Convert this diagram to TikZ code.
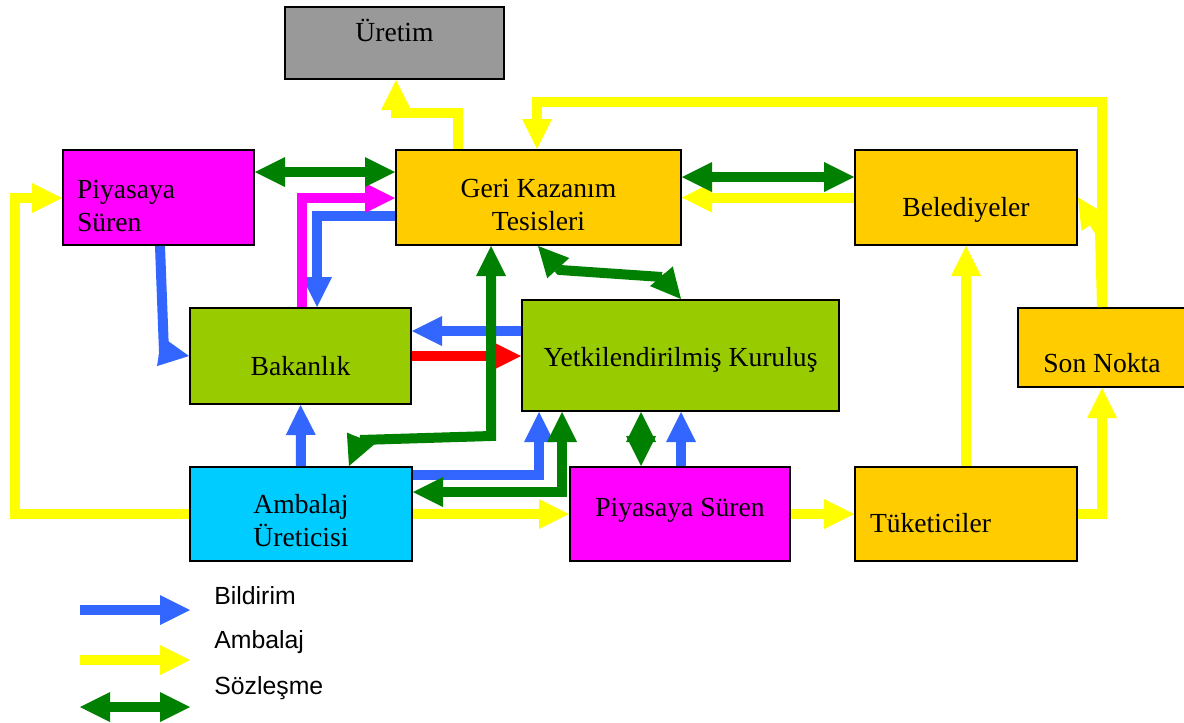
\documentclass[tikz,border=0pt]{standalone}
\usepackage{fontspec}
\setmainfont{Liberation Serif}
\newfontfamily\legendfont{Liberation Sans}
\usetikzlibrary{arrows.meta}

\definecolor{bildirim}{HTML}{3366FF}
\definecolor{ambalaj}{HTML}{FFFF00}
\definecolor{sozlesme}{HTML}{008000}
\definecolor{kirmizi}{HTML}{FF0000}
\definecolor{pembe}{HTML}{FF00FF}
\definecolor{turuncu}{HTML}{FFCC00}
\definecolor{yesil}{HTML}{99CC00}
\definecolor{mavi}{HTML}{00CCFF}
\definecolor{gri}{HTML}{999999}

\begin{document}
\begin{tikzpicture}[x=0.5pt, y=-0.5pt,
            kutu/.style={draw=black, line width=1pt, inner sep=0pt, font=\fontsize{13.8pt}{16.5pt}\selectfont},
            taban/.style={text height=#1, text depth=0pt},
            ok/.style={line width=5pt, -{Triangle[length=15pt, width=15pt, line width=0pt]}},
            ciftok/.style={line width=5pt, {Triangle[length=15pt, width=15pt, line width=0pt]}-{Triangle[length=15pt, width=15pt, line width=0pt]}},
            bil/.style={ok, draw=bildirim},
            amb/.style={ok, draw=ambalaj},
            soz/.style={ciftok, draw=sozlesme},
            lejant/.style={anchor=west, inner sep=0pt, font=\legendfont\fontsize{12.4pt}{14pt}\selectfont}]
            \useasboundingbox (0,0) rectangle (1184,723);

            \node[kutu, fill=gri, minimum width=109.5pt, minimum height=36pt, text height=0pt, text depth=1.3pt] (uretim) at (394.5,43) {Üretim};
            \node[kutu, fill=pembe, minimum width=95.5pt, minimum height=47.5pt, text width=81.5pt, align=left, taban=0.8pt] (piyasaA) at (158.5,197.5) {Piyasaya\\Süren};
            \node[kutu, fill=turuncu, minimum width=142.5pt, minimum height=47.5pt, align=center, taban=32.5pt] (geri) at (538.5,197.5) {Geri Kazanım\\Tesisleri};
            \node[kutu, fill=turuncu, minimum width=111pt, minimum height=47.5pt, taban=18.5pt] (belediye) at (966,197.5) {Belediyeler};
            \node[kutu, fill=yesil, minimum width=110.5pt, minimum height=48pt, taban=19pt] (bakanlik) at (300.5,356) {Bakanlık};
            \node[kutu, fill=yesil, minimum width=158.5pt, minimum height=55.5pt, taban=11.2pt] (yetkili) at (680.5,355.5) {Yetkilendirilmiş Kuruluş};
            \node[kutu, fill=turuncu, minimum width=84pt, minimum height=39.5pt, taban=25.2pt] (sonnokta) at (1102,347.5) {Son Nokta};
            \node[kutu, fill=mavi, minimum width=111pt, minimum height=47pt, align=center, taban=32.7pt] (uretici) at (301,514) {Ambalaj\\Üreticisi};
            \node[kutu, fill=pembe, minimum width=110pt, minimum height=47pt, taban=2.7pt] (piyasaB) at (680,514) {Piyasaya Süren};
            \node[kutu, fill=turuncu, minimum width=111pt, minimum height=47pt, text width=96pt, align=left, taban=18.7pt] (tuketici) at (966,514) {Tüketiciler};

            \draw[amb] (geri.north -| 458,0) |- (396,113) -- (uretim.south -| 396,0);
            \draw[amb] (sonnokta.north) |- (537,102) -- (geri.north -| 537,0);
            \draw[amb] (sonnokta.north) -- (1100,232) -- (belediye.east);
            \draw[amb] (belediye.west) -- (geri.east |- belediye.west);
            \draw[amb] (tuketici.north) -- (belediye.south);
            \draw[amb] (tuketici.east) -| (sonnokta.south);
            \draw[amb] (piyasaB.east) -- (tuketici.west);
            \draw[amb] (uretici.east) -- (piyasaB.west);
            \draw[amb] (uretici.west) -| (15,198) -- (piyasaA.west |- 0,198);

            \draw[bil] (piyasaA.south -| 160,0) -- (164,352) -- (bakanlik.west);
            \draw[bil] (geri.west |- 0,216) -| (bakanlik.north -| 317,0);
            \draw[bil] (yetkili.west |- 0,331) -- (bakanlik.east |- 0,331);
            \draw[bil] (uretici.north) -- (bakanlik.south);
            \draw[bil] (uretici.east |- 0,475) -| (yetkili.south -| 539,0);
            \draw[bil] (piyasaB.north -| 681,0) -- (yetkili.south -| 681,0);

            \draw[ok, draw=pembe] (bakanlik.north -| 302,0) |- (geri.west |- 0,198);
            \draw[ok, draw=kirmizi] (bakanlik.east) -- (yetkili.west |- bakanlik.east);

            \draw[soz] (piyasaA.east |- 0,172) -- (geri.west |- 0,172);
            \draw[soz] (geri.east |- 0,177) -- (belediye.west |- 0,177);
            \draw[soz] (uretici.north -| 349,0) -- (360,440) -- (491,436) -- (geri.south -| 491,0);
            \draw[soz] (geri.south -| 538,0) -- (560,270) -- (662,277) -- (yetkili.north -| 681,0);
            \draw[soz] (uretici.east |- 0,492) -| (yetkili.south -| 562,0);
            \draw[soz] (piyasaB.north -| 641,0) -- (yetkili.south -| 641,0);

            \coordinate (l1a) at (80,610);
            \coordinate (l1b) at (190,610);
            \coordinate (l2a) at (80,660);
            \coordinate (l2b) at (190,660);
            \coordinate (l3a) at (80,707);
            \coordinate (l3b) at (190,707);
            \draw[bil] (l1a) -- (l1b);
            \draw[amb] (l2a) -- (l2b);
            \draw[soz] (l3a) -- (l3b);
            \node[lejant] (bildirimT) at (214,596) {Bildirim};
            \node[lejant] (ambalajT) at (214,642) {Ambalaj};
            \node[lejant] (sozlesmeT) at (214,688) {Sözleşme};
        \end{tikzpicture}
\end{document}
